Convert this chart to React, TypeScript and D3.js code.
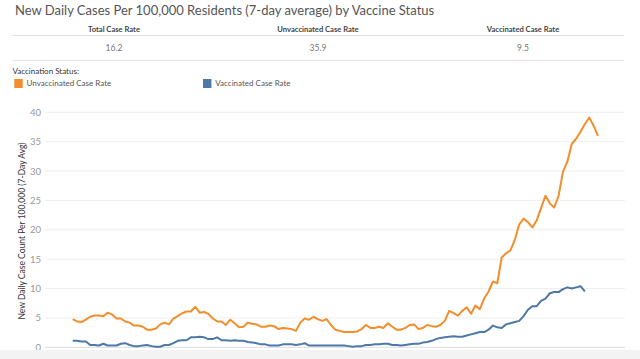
import React from 'react';
import {scaleLinear, line, curveLinear} from 'd3';

// readings, oldest to newest (one point per day)
const unvaccinated = [
    4.8, 4.4, 4.3, 4.7, 5.2, 5.4, 5.4, 5.3, 5.9, 5.6, 4.9, 4.9, 4.4, 4.2, 3.7, 3.7, 3.5, 3.0, 3.0, 3.2,
    3.9, 4.2, 3.9, 4.9, 5.3, 5.8, 6.1, 6.1, 6.9, 5.9, 6.0, 5.7, 4.9, 4.4, 4.4, 3.8, 4.7, 4.1, 3.4, 3.5,
    4.2, 4.0, 3.9, 3.5, 3.5, 3.7, 3.6, 3.1, 3.3, 3.2, 3.1, 2.8, 4.2, 4.9, 4.7,
    5.2, 4.8, 4.5, 4.8, 3.8, 3.0, 2.8, 2.6, 2.6, 2.6, 2.7, 3.1, 3.8, 3.3, 3.3, 3.5, 3.3, 4.1, 3.5, 3.0,
    3.0, 3.3, 3.8, 3.9, 3.1, 3.3, 3.8, 3.6, 3.5, 3.8, 4.5, 6.2, 5.8, 5.4, 6.2, 6.8, 5.7, 7.1, 6.5, 8.3,
    9.5, 11.2, 10.9, 15.3, 16.0, 16.5, 18.3, 20.9, 21.9, 21.3, 20.4, 21.6, 23.7, 25.8, 24.5, 23.8, 25.8,
    29.9, 31.6, 34.6, 35.5, 36.7, 38.0, 39.1, 37.7, 36.0
];
const vaccinated = [
    1.1, 1.1, 1.0, 1.0, 0.4, 0.4, 0.3, 0.6, 0.3, 0.3, 0.3, 0.6, 0.7, 0.4, 0.2, 0.2, 0.3, 0.4, 0.2, 0.1,
    0.1, 0.4, 0.4, 0.7, 1.1, 1.2, 1.2, 1.7, 1.7, 1.8, 1.7, 1.4, 1.4, 1.7, 1.2, 1.2, 1.1, 1.2, 1.1, 1.1,
    0.9, 0.8, 0.7, 0.5, 0.5, 0.3, 0.3, 0.3, 0.5, 0.5, 0.5, 0.4, 0.5, 0.7, 0.3,
    0.3, 0.3, 0.3, 0.3, 0.3, 0.3, 0.3, 0.3, 0.2, 0.1, 0.2, 0.2, 0.4, 0.4, 0.5, 0.5, 0.6, 0.6, 0.4, 0.4,
    0.3, 0.4, 0.5, 0.6, 0.6, 0.8, 0.9, 1.1, 1.4, 1.6, 1.7, 1.8, 1.9, 1.8, 1.8, 2.0, 2.2, 2.4, 2.6, 2.6,
    3.0, 3.7, 3.4, 3.3, 3.9, 4.1, 4.3, 4.5, 5.3, 6.4, 7.0, 7.0, 7.9, 8.3, 9.2, 9.4, 9.4, 9.9, 10.2, 10.0,
    10.2, 10.4, 9.5
];
const yTicks = [0, 5, 10, 15, 20, 25, 30, 35, 40];

const summaryLabels = ['Total Case Rate', 'Unvaccinated Case Rate', 'Vaccinated Case Rate'];
const summaryValues = ['16.2', '35.9', '9.5'];
const seriesNames = ['Unvaccinated Case Rate', 'Vaccinated Case Rate'];

const ORANGE = '#F28E2B';
const BLUE = '#4E79A7';
const FONT = 'Lato, "Open Sans", sans-serif';

export default function App() {
    const width = 640;
    const height = 359;

    const x = scaleLinear().domain([0, unvaccinated.length - 1]).range([72.7, 598]);
    const y = scaleLinear().domain([0, 40]).range([347.3, 112.3]);

    const path = line<number>()
        .x((d, i) => x(i))
        .y(d => y(d))
        .curve(curveLinear);

    const colX = [114, 318, 523];

    return (
        <svg width={width} height={height}
             style={{position: 'absolute', left: 0, top: 0, fontFamily: FONT}}>
            <rect width={width} height={height} fill="#fff"/>
            <text x={15} y={14.5} fontSize={13} fill="#555">
                New Daily Cases Per 100,000 Residents (7-day average) by Vaccine Status
            </text>

            {/* summary table */}
            {summaryLabels.map((s, i) => (
                <text key={s} x={colX[i]} y={32} fontSize={7.6} fontWeight="bold" fill="#444"
                      textAnchor="middle">{s}</text>
            ))}
            <line x1={12.5} x2={624} y1={35.5} y2={35.5} stroke="#ddd"/>
            {summaryValues.map((s, i) => (
                <text key={i} x={colX[i]} y={51} fontSize={8.5} fill="#777" textAnchor="middle">{s}</text>
            ))}
            <line x1={12.5} x2={624} y1={60.5} y2={60.5} stroke="#e6e6e6"/>

            {/* legend */}
            <text x={12.5} y={73.5} fontSize={8} fill="#333">Vaccination Status:</text>
            {seriesNames.map((s, i) => {
                const lx = i === 0 ? 14.3 : 203;
                return (
                    <g key={s}>
                        <rect x={lx} y={79} width={8.4} height={9} fill={i === 0 ? ORANGE : BLUE}/>
                        <text x={lx + 12.3} y={86} fontSize={8} fill="#555">{s}</text>
                    </g>
                );
            })}

            {/* grid and axis */}
            {yTicks.map(t => (
                <g key={t}>
                    <line x1={45} x2={625} y1={y(t)} y2={y(t)}
                          stroke={t === 0 ? '#ddd' : '#eee'} strokeWidth={1}/>
                    <text x={41} y={y(t) + 3.5} fontSize={9.5} fill="#999" textAnchor="end">{t}</text>
                </g>
            ))}
            <text transform="translate(25,231) rotate(-90)" fontSize={8.5} fill="#333" textAnchor="middle">
                New Daily Case Count Per 100,000 (7-Day Avg)
            </text>

            <path d={path(vaccinated) || ''} fill="none" stroke={BLUE} strokeWidth={2}
                  strokeLinejoin="round"/>
            <path d={path(unvaccinated) || ''} fill="none" stroke={ORANGE} strokeWidth={2}
                  strokeLinejoin="round"/>

            <rect x={0} y={350} width={width} height={9} fill="#f3f3f3"/>
        </svg>
    );
}
